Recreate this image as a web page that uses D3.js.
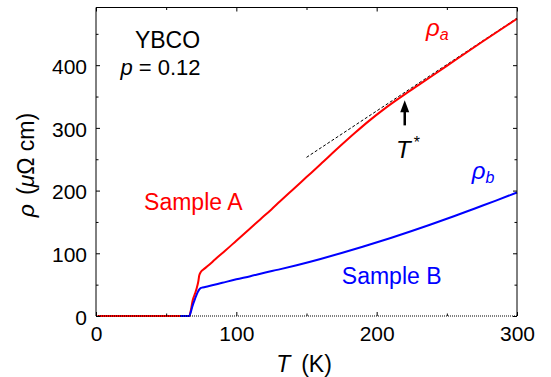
<!DOCTYPE html>
<html>
<head>
<meta charset="utf-8">
<script src="https://cdn.jsdelivr.net/npm/d3@7"></script>
<style>
  body { margin: 0; background: #fff; }
  svg text { font-family: "Liberation Sans", Arial, Helvetica, sans-serif; }
</style>
</head>
<body>
<div id="chart"></div>
<script>
// Sample A (rho_a), temperature in K, resistivity in micro-ohm cm
const tempA = [1, 66.5, 67.5, 68.9, 70.6, 71.7, 72.9, 73.6, 74.8, 76.5, 80, 85, 92, 100, 110, 117, 125, 131, 140, 150, 160, 174, 185, 195, 205, 212, 220, 230, 250, 275, 300];
const rhoA  = [0, 0, 8, 25, 36, 44, 55, 65, 70.6, 74, 80.5, 90.5, 104, 120, 140, 154, 170, 182.5, 201, 221.5, 242, 271, 293, 312, 329.5, 341, 353.5, 368.5, 399, 437, 474];

// Sample B (rho_b)
const tempB = [60, 66.5, 67.5, 68.5, 69.5, 70.5, 71.5, 72.5, 73.5, 74.5, 76, 80, 90, 100, 110, 120, 130, 143, 160, 175, 190, 210, 225, 238, 255, 270, 285, 300];
const rhoB  = [0, 0, 6, 14, 21, 27, 33, 38, 42, 44.5, 45.5, 47.5, 53, 58.5, 63.5, 69, 74, 81, 91, 100.5, 110.5, 124.5, 135.5, 145.5, 159, 171.5, 184, 197];

// linear high-T fit (dashed)
const fitT = [150, 300];
const fitRho = [253, 475];

// T* marker
const tStar = 220;
const arrowRho = [304, 344];

const xTicks = [0, 100, 200, 300];
const xMinor = [50, 150, 250];
const yTicks = [0, 100, 200, 300, 400];
const yMinor = [50, 150, 250, 350, 450];

const W = 551, H = 377;
const margin = { top: 7.5, right: 34, bottom: 61, left: 96 };
const width = W - margin.left - margin.right;
const height = H - margin.top - margin.bottom;

const svg = d3.select("#chart").append("svg")
    .attr("width", W)
    .attr("height", H);

const g = svg.append("g")
    .attr("transform", `translate(${margin.left},${margin.top})`);

const x = d3.scaleLinear().domain([0, 300]).range([0, width]);
const y = d3.scaleLinear().domain([0, 492]).range([height, 0]);

// data lines
const line = d3.line()
    .x(d => x(d[0]))
    .y(d => y(d[1]))
    .curve(d3.curveMonotoneX);

g.append("path")
    .datum(fitT.map((t, i) => [t, fitRho[i]]))
    .attr("fill", "none")
    .attr("stroke", "#000")
    .attr("stroke-width", 1)
    .attr("stroke-dasharray", "3,2")
    .attr("d", d3.line().x(d => x(d[0])).y(d => y(d[1])));

g.append("path")
    .datum(tempA.map((t, i) => [t, rhoA[i]]))
    .attr("fill", "none")
    .attr("stroke", "#ff0000")
    .attr("stroke-width", 2)
    .attr("d", line);

g.append("path")
    .datum(tempB.map((t, i) => [t, rhoB[i]]))
    .attr("fill", "none")
    .attr("stroke", "#0000ff")
    .attr("stroke-width", 2)
    .attr("d", line);

// axes: inward ticks on all four sides
function styleAxis(sel) {
    sel.select(".domain").remove();
    sel.selectAll("line").attr("stroke", "#000").attr("stroke-width", 1);
    sel.selectAll("text")
        .attr("fill", "#000")
        .style("font-size", "21px");
}

g.append("g").attr("transform", `translate(0,${height})`)
    .call(d3.axisBottom(x).tickValues(xTicks).tickSizeInner(-4).tickSizeOuter(0).tickPadding(10))
    .call(styleAxis);
g.append("g").attr("transform", `translate(0,${height})`)
    .call(d3.axisBottom(x).tickValues(xMinor).tickSizeInner(-2.5).tickSizeOuter(0).tickFormat(""))
    .call(styleAxis);
g.append("g")
    .call(d3.axisTop(x).tickValues(xTicks).tickSizeInner(-4).tickSizeOuter(0).tickFormat(""))
    .call(styleAxis);
g.append("g")
    .call(d3.axisTop(x).tickValues(xMinor).tickSizeInner(-2.5).tickSizeOuter(0).tickFormat(""))
    .call(styleAxis);

g.append("g")
    .call(d3.axisLeft(y).tickValues(yTicks).tickSizeInner(-4).tickSizeOuter(0).tickPadding(9))
    .call(styleAxis)
    .call(a => a.selectAll("text").attr("dy", "0.4em"));
g.append("g")
    .call(d3.axisLeft(y).tickValues(yMinor).tickSizeInner(-2.5).tickSizeOuter(0).tickFormat(""))
    .call(styleAxis);
g.append("g").attr("transform", `translate(${width},0)`)
    .call(d3.axisRight(y).tickValues(yTicks).tickSizeInner(-4).tickSizeOuter(0).tickFormat(""))
    .call(styleAxis);
g.append("g").attr("transform", `translate(${width},0)`)
    .call(d3.axisRight(y).tickValues(yMinor).tickSizeInner(-2.5).tickSizeOuter(0).tickFormat(""))
    .call(styleAxis);

// frame
const frame = g.append("g").attr("fill", "none").attr("stroke", "#000").attr("stroke-width", 1);
frame.append("path").attr("d", `M0,${height}V0H${width}V${height}`);
frame.append("line")
    .attr("x1", 0).attr("x2", width)
    .attr("y1", height).attr("y2", height)
    .attr("stroke-dasharray", "1,1");

// axis titles
const xTitle = svg.append("text")
    .attr("x", 304)
    .attr("y", 372)
    .attr("text-anchor", "middle")
    .style("font-size", "23px");
xTitle.append("tspan").style("font-style", "italic").text("T");
xTitle.append("tspan").attr("dx", 11).text("(K)");

const yTitle = svg.append("text")
    .attr("transform", "translate(34,165) rotate(-90)")
    .attr("text-anchor", "middle")
    .style("font-size", "23px");
yTitle.append("tspan").style("font-style", "italic").text("ρ");
yTitle.append("tspan").attr("dx", 9).text("(");
yTitle.append("tspan").style("font-style", "italic").text("μ");
yTitle.append("tspan").text("Ω cm)");

// annotations
svg.append("text")
    .attr("x", 167.5).attr("y", 48)
    .attr("text-anchor", "middle")
    .style("font-size", "23px")
    .text("YBCO");

const pLabel = svg.append("text")
    .attr("x", 160.5).attr("y", 75)
    .attr("text-anchor", "middle")
    .style("font-size", "22px");
pLabel.append("tspan").style("font-style", "italic").text("p");
pLabel.append("tspan").text(" = 0.12");

svg.append("text")
    .attr("x", 193.3).attr("y", 210)
    .attr("text-anchor", "middle")
    .attr("fill", "#ff0000")
    .style("font-size", "23px")
    .text("Sample A");

svg.append("text")
    .attr("x", 391.7).attr("y", 284.3)
    .attr("text-anchor", "middle")
    .attr("fill", "#0000ff")
    .style("font-size", "23px")
    .text("Sample B");

const rhoALabel = svg.append("text")
    .attr("x", 426).attr("y", 36)
    .attr("fill", "#ff0000")
    .style("font-size", "24px")
    .style("font-style", "italic");
rhoALabel.append("tspan").text("ρ");
rhoALabel.append("tspan").attr("dy", 4).style("font-size", "16px").text("a");

const rhoBLabel = svg.append("text")
    .attr("x", 471.7).attr("y", 179)
    .attr("fill", "#0000ff")
    .style("font-size", "24px")
    .style("font-style", "italic");
rhoBLabel.append("tspan").text("ρ");
rhoBLabel.append("tspan").attr("dy", 4).style("font-size", "16px").text("b");

// T* arrow
const ax = margin.left + x(tStar);
const yBot = margin.top + y(arrowRho[0]);
const yTip = margin.top + y(arrowRho[1]);
svg.append("line")
    .attr("x1", ax).attr("x2", ax)
    .attr("y1", yBot).attr("y2", yTip + 10)
    .attr("stroke", "#000")
    .attr("stroke-width", 2.5);
svg.append("path")
    .attr("d", `M${ax},${yTip}L${ax + 4.5},${yTip + 12}L${ax - 4.5},${yTip + 12}Z`)
    .attr("fill", "#000");

const tStarLabel = svg.append("text")
    .attr("x", 396).attr("y", 158)
    .style("font-size", "24px");
tStarLabel.append("tspan").style("font-style", "italic").text("T");
tStarLabel.append("tspan").attr("dx", 3).attr("dy", -10).style("font-size", "16px").text("*");
</script>
</body>
</html>
